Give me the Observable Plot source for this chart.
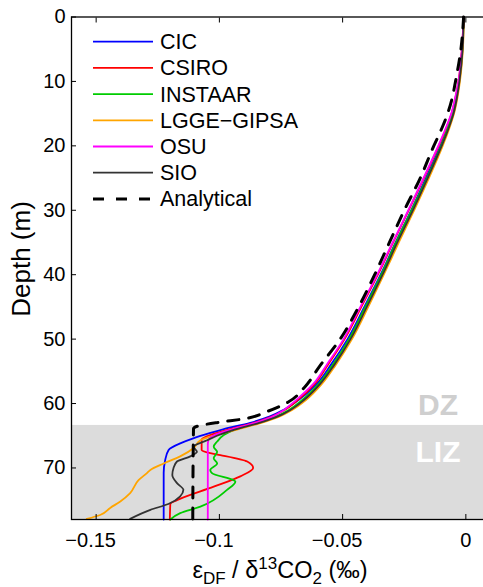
<!DOCTYPE html>
<html>
<head>
<meta charset="utf-8">
<script src="https://cdn.jsdelivr.net/npm/d3@7"></script>
<script src="https://cdn.jsdelivr.net/npm/@observablehq/plot@0.6"></script>
<style>
  html, body { margin: 0; padding: 0; background: white; overflow: hidden; }
  #wrap { width: 483px; height: 587px; overflow: hidden; }
  #wrap svg { max-width: none !important; }
</style>
</head>
<body>
<div id="wrap"></div>
<script>
// ---- data: [depth (m), epsilon_DF / d13CO2 (permil)] ----
const models = ["CIC", "CSIRO", "INSTAAR", "LGGE\u2212GIPSA", "OSU", "SIO"];
const modelColors = ["#0000ff", "#ff0000", "#00cc00", "#ffa500", "#ff00ff", "#333333"];

const CIC = [[0,-0.0009],[5,-0.0015],[10,-0.0028],[12.5,-0.0040],[15,-0.0055],[17.5,-0.0077],[20,-0.0103],[25,-0.0162],[30,-0.0222],[35,-0.0285],[40,-0.0346],[45,-0.0412],[50,-0.0480],[54,-0.0548],[57,-0.0606],[59.5,-0.0680],[61,-0.0740],[62,-0.0795],[63,-0.0875],[64,-0.0985],[64.6,-0.1040],[65.4,-0.1106],[66.1,-0.1154],[67.2,-0.1206],[68.8,-0.1220],[70.8,-0.1226],[78,-0.1226]];
const CSIRO = [[0,-0.0009],[5,-0.0016],[10,-0.0030],[12.5,-0.0042],[15,-0.0058],[17.5,-0.0082],[20,-0.0110],[25,-0.0170],[30,-0.0232],[35,-0.0295],[40,-0.0357],[45,-0.0424],[50,-0.0492],[54,-0.0560],[57,-0.0614],[59.5,-0.0683],[61,-0.0735],[62,-0.0785],[63,-0.0860],[64,-0.0960],[65,-0.1045],[65.6,-0.1072],[67.2,-0.1072],[67.7,-0.1037],[68.0,-0.0996],[69.0,-0.0887],[70.0,-0.0863],[71.3,-0.0915],[72.9,-0.1023],[75.0,-0.1172],[75.6,-0.1199],[78,-0.1201]];
const INSTAAR = [[0,-0.0009],[5,-0.0014],[10,-0.0027],[12.5,-0.0038],[15,-0.0053],[17.5,-0.0075],[20,-0.0100],[25,-0.0158],[30,-0.0220],[35,-0.0283],[40,-0.0343],[45,-0.0408],[50,-0.0474],[54,-0.0540],[57,-0.0598],[59.5,-0.0665],[61,-0.0718],[62,-0.0770],[63,-0.0845],[64,-0.0935],[64.9,-0.0982],[65.9,-0.1009],[66.7,-0.1023],[67.5,-0.1009],[68.5,-0.1023],[69.3,-0.1009],[70.3,-0.1037],[70.8,-0.1030],[71.9,-0.0942],[72.1,-0.0935],[73.4,-0.0969],[76.0,-0.1077],[77.0,-0.1159],[78,-0.1199]];
const LGGE = [[0,-0.0008],[5,-0.0012],[10,-0.0024],[12.5,-0.0034],[15,-0.0048],[17.5,-0.0069],[20,-0.0094],[25,-0.0150],[30,-0.0210],[35,-0.0272],[40,-0.0333],[45,-0.0396],[50,-0.0462],[54,-0.0528],[57,-0.0585],[59.5,-0.0650],[61,-0.0705],[62,-0.0755],[63,-0.0830],[64,-0.0925],[65,-0.1025],[65.7,-0.1077],[66.9,-0.1104],[68.2,-0.1159],[69.3,-0.1226],[70.3,-0.1280],[70.8,-0.1294],[71.9,-0.1328],[73.9,-0.1362],[75.2,-0.1402],[76.2,-0.1443],[77.3,-0.1484],[77.9,-0.1538]];
const OSU = [[0,-0.0009],[5,-0.0016],[10,-0.0030],[12.5,-0.0043],[15,-0.0059],[17.5,-0.0084],[20,-0.0112],[25,-0.0172],[30,-0.0234],[35,-0.0297],[40,-0.0360],[45,-0.0428],[50,-0.0496],[54,-0.0565],[57,-0.0620],[59.5,-0.0690],[61,-0.0738],[62,-0.0782],[63,-0.0855],[64,-0.0950],[65,-0.1025],[65.7,-0.1045],[66.5,-0.1047],[78,-0.1047]];
const SIO = [[0,-0.0009],[5,-0.0013],[10,-0.0026],[12.5,-0.0036],[15,-0.0050],[17.5,-0.0072],[20,-0.0098],[25,-0.0155],[30,-0.0215],[35,-0.0278],[40,-0.0338],[45,-0.0402],[50,-0.0468],[54,-0.0534],[57,-0.0592],[59.5,-0.0658],[61,-0.0712],[62,-0.0762],[63,-0.0838],[64,-0.0935],[65,-0.1010],[65.7,-0.1050],[66.7,-0.1104],[67.5,-0.1091],[68.2,-0.1118],[69.0,-0.1172],[70.0,-0.1186],[71.1,-0.1191],[72.4,-0.1171],[73.4,-0.1146],[74.4,-0.1159],[75.6,-0.1207],[76.5,-0.1280],[77.9,-0.1362]];
const Analytical = [[0,-0.0009],[5,-0.0020],[10,-0.0042],[12.5,-0.0055],[15,-0.0074],[17.5,-0.0100],[20,-0.0130],[25,-0.0185],[30,-0.0250],[35,-0.0310],[40,-0.0370],[45,-0.0435],[50,-0.0510],[54.3,-0.0595],[57.5,-0.0655],[59.8,-0.0722],[61.2,-0.0804],[62.4,-0.0904],[62.9,-0.0999],[63.5,-0.1088],[63.9,-0.1105],[78,-0.1108]];

const modelSeries = [CIC, CSIRO, INSTAAR, LGGE, OSU, SIO];

// axes / zones
const xDomain = [-0.16, 0.01];
const yDomain = [0, 78];
const xTicks = [-0.15, -0.1, -0.05, 0];
const xTickLabels = ["\u22120.15", "\u22120.1", "\u22120.05", "0"];
const yTicks = [0, 10, 20, 30, 40, 50, 60, 70];
const lizTop = 63.4;
const zoneLabels = ["DZ", "LIZ"];
const zoneLabelDepths = [61.8, 69.0];
const zoneLabelX = -0.0113;
const zoneLabelColors = ["#cfcfcf", "#ffffff"];

// ---- build ----
const font = "'Liberation Sans', Arial, Helvetica, sans-serif";
const toRows = s => s.map(([d, v]) => ({d, v}));
const negTicks = xTicks.filter(t => t < 0);
const zeroTicks = xTicks.filter(t => t >= 0);
const fmtX = d => xTickLabels[xTicks.indexOf(d)];

const marks = [
  Plot.rect([{y1: lizTop, y2: yDomain[1]}], {x1: xDomain[0], x2: xDomain[1], y1: "y1", y2: "y2", fill: "#dcdcdc"}),
  ...zoneLabels.map((t, i) => Plot.text([t], {x: zoneLabelX, y: zoneLabelDepths[i], text: d => d, fill: zoneLabelColors[i], fontSize: 30, fontWeight: "bold", lineAnchor: "bottom", textAnchor: "middle"})),
  ...modelSeries.map((s, i) => Plot.line(toRows(s), {x: "v", y: "d", stroke: modelColors[i], strokeWidth: 1.8, curve: "monotone-y"})),
  Plot.line(toRows(Analytical), {x: "v", y: "d", stroke: "black", strokeWidth: 3, strokeDasharray: "11,10", curve: "monotone-y"}),
  Plot.axisX(negTicks, {anchor: "bottom", tickSize: 0, tickPadding: 13, tickFormat: fmtX, fontSize: 20, fill: "black", dx: -5.5}),
  Plot.axisX(zeroTicks, {anchor: "bottom", tickSize: 0, tickPadding: 13, tickFormat: fmtX, fontSize: 20, fill: "black"}),
  Plot.axisX(xTicks, {anchor: "bottom", tickSize: 5, text: null, dy: -5, stroke: "black"}),
  Plot.axisX(xTicks, {anchor: "top", tickSize: 5, text: null, dy: 5, stroke: "black"}),
  Plot.axisY(yTicks, {anchor: "left", tickSize: 0, tickPadding: 6, tickFormat: d => String(d), fontSize: 20, fill: "black"}),
  Plot.axisY(yTicks, {anchor: "left", tickSize: 5, text: null, dx: 5, stroke: "black"}),
  Plot.frame({stroke: "black", strokeWidth: 1.3})
];

const chart = Plot.plot({
  width: 490,
  height: 587,
  marginLeft: 71,
  marginRight: 0,
  marginTop: 16.5,
  marginBottom: 68,
  style: {fontFamily: font, fontSize: "20px", background: "white", color: "black", maxWidth: "none"},
  x: {domain: xDomain, label: null, axis: null},
  y: {domain: yDomain, reverse: true, label: null, axis: null},
  marks
});
chart.style.maxWidth = "none";
chart.setAttribute("width", 490);
chart.setAttribute("height", 587);

document.getElementById("wrap").appendChild(chart);

// ---- legend & axis titles (text) ----
const svg = d3.select(chart);
const legendNames = [...models, "Analytical"];
const legendColors = [...modelColors, "black"];
const lg = svg.append("g").attr("font-family", font).attr("font-size", 21.5).attr("text-anchor", "start");
legendNames.forEach((name, i) => {
  const y = 41.7 + i * 26.2;
  const dashed = i === legendNames.length - 1;
  lg.append("line")
    .attr("x1", 93).attr("x2", 153).attr("y1", y).attr("y2", y)
    .attr("stroke", legendColors[i])
    .attr("stroke-width", dashed ? 3 : 1.8)
    .attr("stroke-dasharray", dashed ? "11,12" : null);
  lg.append("text").attr("x", 160).attr("y", y).attr("dy", "0.35em")
    .attr("text-anchor", "start").attr("fill", "black").text(name);
});

svg.append("text")
  .attr("transform", "translate(29.5,259) rotate(-90)")
  .attr("text-anchor", "middle")
  .attr("font-family", font).attr("font-size", 26).attr("fill", "black")
  .text("Depth (m)");

const xt = svg.append("text")
  .attr("x", 280).attr("y", 578)
  .attr("text-anchor", "middle")
  .attr("font-family", font).attr("font-size", 23.5).attr("fill", "black");
xt.append("tspan").text("\u03b5");
xt.append("tspan").attr("font-size", 17).attr("dy", 6).text("DF");
xt.append("tspan").attr("dy", -6).text(" / \u03b4");
xt.append("tspan").attr("font-size", 17).attr("dy", -9).text("13");
xt.append("tspan").attr("dy", 9).text("CO");
xt.append("tspan").attr("font-size", 17).attr("dy", 6).text("2");
xt.append("tspan").attr("dy", -6).text(" (\u2030)");
</script>
</body>
</html>
